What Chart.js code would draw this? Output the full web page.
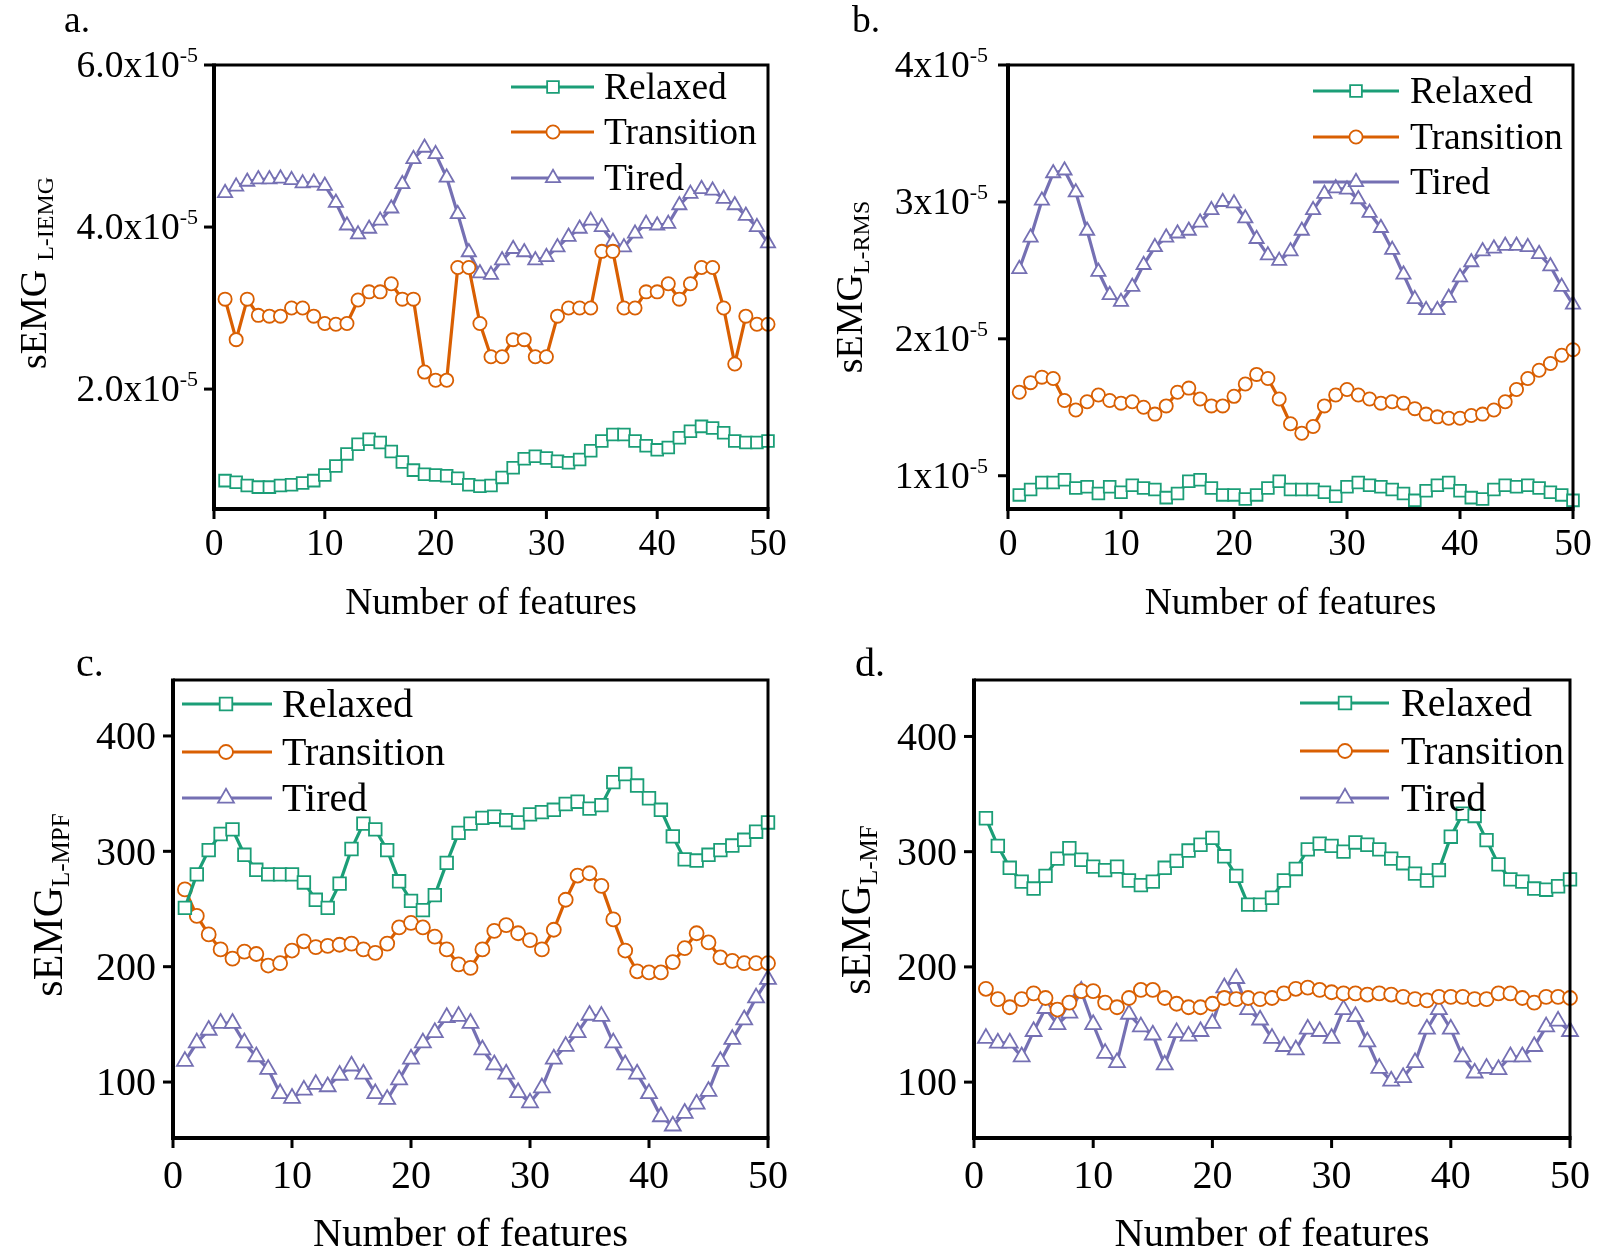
<!DOCTYPE html>
<html>
<head>
<meta charset="utf-8">
<script src="https://cdn.jsdelivr.net/npm/chart.js@4.4.0/dist/chart.umd.min.js"></script>
<style>
html, body { margin: 0; padding: 0; background: #fff; }
#wrap { position: relative; width: 1599px; height: 1254px; }
#wrap canvas { position: absolute; left: 0; top: 0; }
</style>
</head>
<body>
<div id="wrap">
<canvas id="chartA" width="1599" height="1254"></canvas>
<canvas id="chartB" width="1599" height="1254"></canvas>
<canvas id="chartC" width="1599" height="1254"></canvas>
<canvas id="chartD" width="1599" height="1254"></canvas>
</div>
<script>
const features = [1, 2, 3, 4, 5, 6, 7, 8, 9, 10, 11, 12, 13, 14, 15, 16, 17, 18, 19, 20,
    21, 22, 23, 24, 25, 26, 27, 28, 29, 30, 31, 32, 33, 34, 35, 36, 37, 38, 39, 40,
    41, 42, 43, 44, 45, 46, 47, 48, 49, 50];
const seriesNames = ['Relaxed', 'Transition', 'Tired'];
const xTicks = [0, 10, 20, 30, 40, 50];

// a. sEMG L-IEMG, in units of 1e-5
const relaxedA = [0.87, 0.85, 0.81, 0.79, 0.79, 0.81, 0.82, 0.84, 0.87, 0.94,
    1.05, 1.20, 1.32, 1.38, 1.34, 1.23, 1.10, 1.00, 0.95, 0.94,
    0.93, 0.90, 0.82, 0.80, 0.81, 0.91, 1.03, 1.14, 1.17, 1.15,
    1.11, 1.09, 1.13, 1.24, 1.36, 1.44, 1.44, 1.36, 1.30, 1.25,
    1.28, 1.40, 1.48, 1.54, 1.52, 1.46, 1.36, 1.34, 1.34, 1.36];
const transitionA = [3.11, 2.61, 3.11, 2.91, 2.90, 2.90, 3.00, 3.00, 2.90, 2.81,
    2.80, 2.81, 3.10, 3.20, 3.20, 3.30, 3.11, 3.11, 2.21, 2.11,
    2.11, 3.50, 3.50, 2.81, 2.40, 2.40, 2.61, 2.61, 2.40, 2.40,
    2.90, 3.00, 3.00, 3.00, 3.70, 3.70, 3.00, 3.00, 3.20, 3.20,
    3.30, 3.11, 3.30, 3.50, 3.50, 3.00, 2.31, 2.90, 2.80, 2.80];
const tiredA = [4.42, 4.50, 4.56, 4.59, 4.59, 4.60, 4.58, 4.54, 4.55, 4.51,
    4.30, 4.02, 3.91, 3.98, 4.08, 4.23, 4.53, 4.84, 4.98, 4.90,
    4.61, 4.16, 3.69, 3.43, 3.41, 3.59, 3.73, 3.69, 3.59, 3.63,
    3.75, 3.88, 3.98, 4.08, 4.00, 3.82, 3.75, 3.92, 4.04, 4.02,
    4.04, 4.27, 4.41, 4.47, 4.45, 4.35, 4.27, 4.14, 4.00, 3.80];
const yTicksA = [2, 4, 6];
const yTickLabelsA = ['2.0x10', '4.0x10', '6.0x10'];

// b. sEMG L-RMS, in units of 1e-5
const relaxedB = [0.86, 0.90, 0.95, 0.95, 0.97, 0.91, 0.92, 0.87, 0.92, 0.88,
    0.93, 0.91, 0.90, 0.84, 0.87, 0.96, 0.97, 0.91, 0.86, 0.86,
    0.83, 0.86, 0.91, 0.96, 0.90, 0.90, 0.90, 0.88, 0.85, 0.92,
    0.95, 0.93, 0.92, 0.90, 0.87, 0.82, 0.89, 0.93, 0.95, 0.89,
    0.84, 0.83, 0.90, 0.93, 0.92, 0.93, 0.91, 0.88, 0.86, 0.82];
const transitionB = [1.61, 1.68, 1.72, 1.71, 1.55, 1.48, 1.54, 1.59, 1.55, 1.53,
    1.54, 1.50, 1.45, 1.51, 1.61, 1.64, 1.56, 1.51, 1.51, 1.58,
    1.67, 1.74, 1.71, 1.56, 1.38, 1.31, 1.36, 1.51, 1.59, 1.63,
    1.59, 1.56, 1.53, 1.54, 1.53, 1.49, 1.45, 1.43, 1.42, 1.42,
    1.44, 1.45, 1.48, 1.54, 1.63, 1.71, 1.77, 1.82, 1.88, 1.92];
const tiredB = [2.51, 2.74, 3.01, 3.21, 3.23, 3.07, 2.79, 2.49, 2.32, 2.27,
    2.38, 2.54, 2.67, 2.74, 2.77, 2.79, 2.85, 2.94, 3.00, 2.99,
    2.88, 2.73, 2.61, 2.57, 2.64, 2.79, 2.94, 3.06, 3.10, 3.09,
    3.02, 2.92, 2.81, 2.65, 2.47, 2.29, 2.21, 2.21, 2.30, 2.45,
    2.56, 2.64, 2.66, 2.68, 2.68, 2.67, 2.62, 2.53, 2.38, 2.25];
const yTicksB = [1, 2, 3, 4];
const yTickLabelsB = ['1x10', '2x10', '3x10', '4x10'];

// c. sEMG L-MPF
const relaxedC = [251, 280, 301, 315, 319, 297, 284, 280, 280, 280,
    273, 258, 251, 272, 302, 324, 319, 301, 274, 257,
    249, 262, 290, 316, 324, 329, 330, 327, 325, 332,
    334, 336, 341, 343, 337, 340, 360, 367, 357, 346,
    336, 313, 293, 292, 297, 301, 305, 310, 317, 325];
const transitionC = [267, 244, 228, 215, 207, 213, 211, 201, 203, 214,
    222, 217, 218, 219, 220, 215, 212, 220, 234, 238,
    234, 226, 215, 202, 199, 215, 231, 236, 229, 223,
    215, 232, 258, 279, 281, 270, 241, 214, 196, 195,
    195, 204, 216, 229, 221, 208, 205, 203, 203, 203];
const tiredC = [118, 134, 145, 151, 151, 134, 122, 111, 90, 86,
    93, 98, 96, 106, 114, 107, 90, 85, 102, 120,
    134, 143, 156, 157, 151, 128, 115, 107, 91, 82,
    95, 120, 131, 143, 158, 157, 134, 115, 107, 90,
    70, 62, 73, 81, 92, 118, 137, 154, 173, 189];
const yTicksC = [100, 200, 300, 400];
const yTickLabelsC = ['100', '200', '300', '400'];

// d. sEMG L-MF
const relaxedD = [329, 305, 286, 274, 268, 279, 294, 303, 293, 287,
    284, 287, 275, 271, 274, 286, 292, 301, 306, 312,
    296, 279, 254, 254, 260, 275, 285, 302, 307, 305,
    300, 308, 306, 302, 294, 290, 281, 275, 284, 313,
    333, 331, 310, 289, 276, 274, 268, 267, 270, 276];
const transitionD = [181, 172, 165, 172, 177, 173, 163, 169, 179, 179,
    169, 165, 173, 180, 180, 173, 168, 165, 165, 168,
    173, 172, 173, 172, 173, 177, 181, 182, 180, 178,
    177, 177, 176, 177, 176, 174, 172, 171, 174, 174,
    174, 172, 172, 177, 177, 173, 169, 174, 174, 173];
const tiredD = [138, 134, 134, 122, 144, 164, 150, 160, 179, 150,
    125, 117, 159, 148, 141, 115, 143, 140, 144, 151,
    182, 190, 163, 154, 138, 131, 128, 146, 144, 138,
    163, 157, 135, 112, 101, 104, 117, 146, 163, 146,
    122, 108, 112, 111, 122, 122, 131, 148, 153, 144];
const yTicksD = [100, 200, 300, 400];
const yTickLabelsD = ['100', '200', '300', '400'];

const colors = ['#1b9e77', '#d95f02', '#7570b3'];
const styles = ['rect', 'circle', 'triangle'];
const FONT = '"Liberation Serif", "Times New Roman", serif';
const W = 1599, H = 1254;

function line(ctx, x1, y1, x2, y2) {
    ctx.beginPath();
    ctx.moveTo(x1, y1);
    ctx.lineTo(x2, y2);
    ctx.stroke();
}

// draws frame, ticks, labels, titles and legend for one panel
function makeDecor(p) {
    return {
        id: 'decor',
        afterDatasetsDraw(chart) {
            const ctx = chart.ctx;
            const a = chart.chartArea;
            const xs = chart.scales.x, ys = chart.scales.y;
            ctx.save();
            ctx.strokeStyle = '#000';
            ctx.fillStyle = '#000';
            ctx.lineJoin = 'miter';

            ctx.lineWidth = 3;
            ctx.beginPath();
            ctx.moveTo(a.left, a.top);
            ctx.lineTo(a.right, a.top);
            ctx.lineTo(a.right, a.bottom);
            ctx.stroke();
            ctx.lineWidth = 4;
            ctx.beginPath();
            ctx.moveTo(a.left, a.top - 1.5);
            ctx.lineTo(a.left, a.bottom);
            ctx.lineTo(a.right + 1.5, a.bottom);
            ctx.stroke();

            ctx.lineWidth = 3;
            xTicks.forEach(v => {
                const x = xs.getPixelForValue(v);
                line(ctx, x, a.bottom, x, a.bottom + 10);
            });
            p.yTicks.forEach(v => {
                const y = ys.getPixelForValue(v);
                line(ctx, a.left - 10, y, a.left, y);
            });

            // x tick labels
            ctx.font = p.font + 'px ' + FONT;
            ctx.textAlign = 'center';
            ctx.textBaseline = 'alphabetic';
            xTicks.forEach(v => {
                ctx.fillText(String(v), xs.getPixelForValue(v), a.bottom + p.xLabelDrop);
            });

            // y tick labels
            p.yTicks.forEach((v, i) => {
                const y = ys.getPixelForValue(v) + p.font * 0.33;
                let right = a.left - p.yLabelGap;
                ctx.textAlign = 'right';
                if (p.exp) {
                    ctx.font = p.supSize + 'px ' + FONT;
                    ctx.fillText(p.exp, right, y - p.supRise);
                    right -= ctx.measureText(p.exp).width;
                }
                ctx.font = p.font + 'px ' + FONT;
                ctx.fillText(p.yLabels[i], right, y);
            });

            // axis titles
            ctx.textAlign = 'center';
            ctx.font = p.xTitleSize + 'px ' + FONT;
            ctx.fillText('Number of features', (a.left + a.right) / 2, p.xTitleBase);

            ctx.save();
            ctx.translate(p.titleX, p.titleY);
            ctx.rotate(-Math.PI / 2);
            ctx.textAlign = 'left';
            ctx.font = p.mainSize + 'px ' + FONT;
            const w1 = ctx.measureText('sEMG').width;
            ctx.font = p.subSize + 'px ' + FONT;
            const w2 = ctx.measureText(p.sub).width;
            const start = -(w1 + p.subGap + w2) / 2;
            ctx.font = p.mainSize + 'px ' + FONT;
            ctx.fillText('sEMG', start, 0);
            ctx.font = p.subSize + 'px ' + FONT;
            ctx.fillText(p.sub, start + w1 + p.subGap, p.subDrop);
            ctx.restore();

            // panel letter
            ctx.textAlign = 'left';
            ctx.font = p.font + 'px ' + FONT;
            ctx.fillText(p.letter, p.letterX, p.letterY);

            // legend
            p.legendRows.forEach((ry, i) => {
                ctx.strokeStyle = colors[i];
                ctx.lineWidth = 3;
                line(ctx, p.legendX1, ry, p.legendX2, ry);
                ctx.fillStyle = '#fff';
                ctx.lineWidth = 1.8;
                Chart.helpers.drawPoint(ctx, {
                    pointStyle: styles[i], radius: p.radii[i], borderWidth: 1.8, rotation: 0
                }, p.legendMX, ry);
                ctx.fillStyle = '#000';
                ctx.textAlign = 'left';
                ctx.font = p.font + 'px ' + FONT;
                ctx.fillText(seriesNames[i], p.legendTX, ry + p.font * 0.33);
            });
            ctx.restore();
        }
    };
}

function makeDataset(values, i, radii) {
    return {
        label: seriesNames[i],
        data: features.map((f, k) => ({ x: f, y: values[k] })),
        borderColor: colors[i],
        borderWidth: 3.2,
        pointStyle: styles[i],
        pointRadius: radii[i],
        pointBorderWidth: 1.8,
        pointBackgroundColor: '#fff',
        pointBorderColor: colors[i],
        tension: 0,
        clip: false
    };
}

function makePanel(id, series, p) {
    const ctx = document.getElementById(id).getContext('2d');
    return new Chart(ctx, {
        type: 'line',
        data: {
            datasets: series.map((s, i) => makeDataset(s, i, p.radii))
        },
        options: {
            responsive: false,
            animation: false,
            events: [],
            layout: {
                padding: { left: p.box.left, top: p.box.top, right: W - p.box.right, bottom: H - p.box.bottom }
            },
            scales: {
                x: { type: 'linear', display: false, min: 0, max: 50 },
                y: { type: 'linear', display: false, min: p.yMin, max: p.yMax }
            },
            plugins: { legend: { display: false }, tooltip: { enabled: false } }
        },
        plugins: [makeDecor(p)]
    });
}

makePanel('chartA', [relaxedA, transitionA, tiredA], {
    box: { left: 214, right: 768, top: 65, bottom: 509 },
    yMin: 0.52, yMax: 6, yTicks: yTicksA, yLabels: yTickLabelsA,
    exp: '-5', supSize: 22, supRise: 15,
    font: 37.5, xLabelDrop: 46, yLabelGap: 16,
    xTitleSize: 37.5, xTitleBase: 614,
    sub: 'L-IEMG', mainSize: 38, subSize: 24, subGap: 9, subDrop: 7, titleX: 46, titleY: 273,
    letter: 'a.', letterX: 64, letterY: 32,
    legendX1: 511, legendX2: 594, legendMX: 553, legendTX: 604, legendRows: [87, 132, 178],
    radii: [8.3, 6.6, 8.2]
});

makePanel('chartB', [relaxedB, transitionB, tiredB], {
    box: { left: 1008, right: 1573, top: 65, bottom: 509 },
    yMin: 0.757, yMax: 4, yTicks: yTicksB, yLabels: yTickLabelsB,
    exp: '-5', supSize: 22, supRise: 15,
    font: 37.5, xLabelDrop: 46, yLabelGap: 20,
    xTitleSize: 37.5, xTitleBase: 614,
    sub: 'L-RMS', mainSize: 38, subSize: 24, subGap: 0, subDrop: 7, titleX: 862, titleY: 287,
    letter: 'b.', letterX: 852, letterY: 32,
    legendX1: 1313, legendX2: 1399, legendMX: 1356, legendTX: 1410, legendRows: [91, 137, 182],
    radii: [8.3, 6.6, 8.2]
});

makePanel('chartC', [relaxedC, transitionC, tiredC], {
    box: { left: 173, right: 768, top: 680, bottom: 1138 },
    yMin: 51.5, yMax: 448.5, yTicks: yTicksC, yLabels: yTickLabelsC,
    exp: '', supSize: 22, supRise: 15,
    font: 40, xLabelDrop: 50, yLabelGap: 17,
    xTitleSize: 40.5, xTitleBase: 1246,
    sub: 'L-MPF', mainSize: 42, subSize: 25, subGap: 0, subDrop: 7, titleX: 62, titleY: 905,
    letter: 'c.', letterX: 76, letterY: 676,
    legendX1: 182, legendX2: 272, legendMX: 226, legendTX: 282, legendRows: [704, 752, 798],
    radii: [8.9, 7, 9.2]
});

makePanel('chartD', [relaxedD, transitionD, tiredD], {
    box: { left: 974, right: 1570, top: 680, bottom: 1138 },
    yMin: 51.5, yMax: 449, yTicks: yTicksD, yLabels: yTickLabelsD,
    exp: '', supSize: 22, supRise: 15,
    font: 40, xLabelDrop: 50, yLabelGap: 17,
    xTitleSize: 40.5, xTitleBase: 1246,
    sub: 'L-MF', mainSize: 42, subSize: 25, subGap: 0, subDrop: 7, titleX: 870, titleY: 910,
    letter: 'd.', letterX: 855, letterY: 676,
    legendX1: 1300, legendX2: 1389, legendMX: 1345, legendTX: 1401, legendRows: [703, 751, 798],
    radii: [8.9, 7, 9.2]
});
</script>
</body>
</html>
